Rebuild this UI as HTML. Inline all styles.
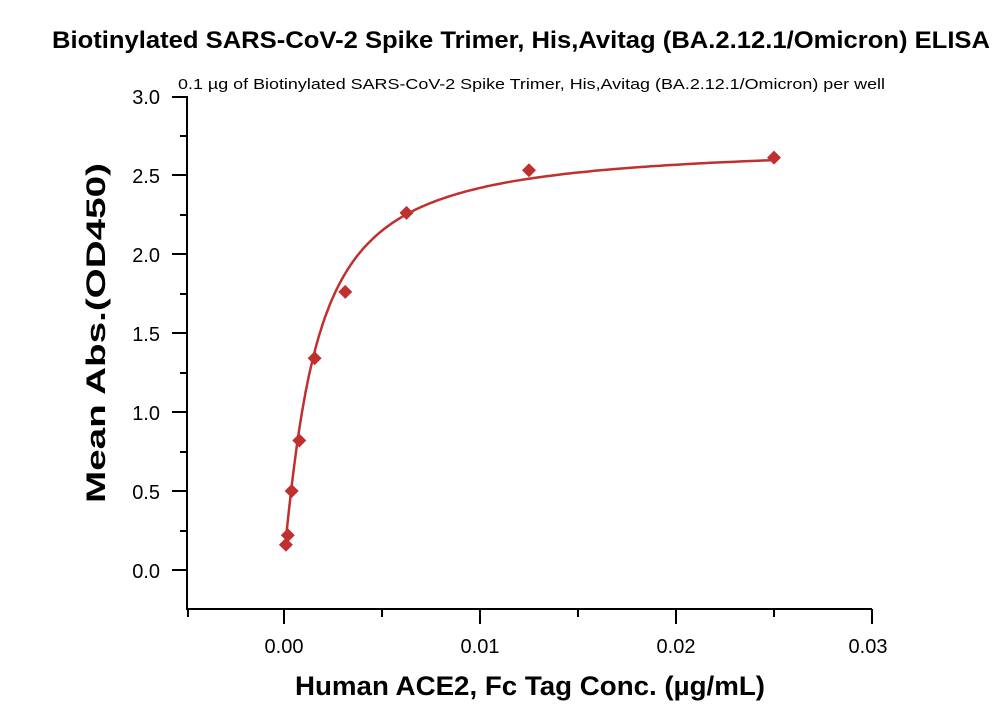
<!DOCTYPE html>
<html><head><meta charset="utf-8"><style>body{margin:0;background:#fff}svg{display:block}text{font-family:"Liberation Sans",sans-serif}</style></head>
<body>
<svg id="s" width="1000" height="714" xmlns="http://www.w3.org/2000/svg">
<text x="52" y="48" font-size="24" font-weight="bold" textLength="938" lengthAdjust="spacingAndGlyphs">Biotinylated SARS-CoV-2 Spike Trimer, His,Avitag (BA.2.12.1/Omicron) ELISA</text>
<text x="178" y="89" font-size="15" textLength="707" lengthAdjust="spacingAndGlyphs">0.1 µg of Biotinylated SARS-CoV-2 Spike Trimer, His,Avitag (BA.2.12.1/Omicron) per well</text>
<g stroke="#000" stroke-width="2" fill="none">
<path d="M187,96 V609 H872"/>
<path d="M172,97H187M180,136H187M172,175H187M180,215H187M172,254H187M180,294H187M172,333H187M180,373H187M172,412H187M180,452H187M172,491H187M180,531H187M172,570H187"/>
<path d="M188,609V617M284,609V624M382,609V617M480,609V624M578,609V617M676,609V624M774,609V617M872,609V624"/>
</g>
<g font-size="20" text-anchor="end">
<text x="160" y="104">3.0</text><text x="160" y="183">2.5</text><text x="160" y="262">2.0</text><text x="160" y="341">1.5</text><text x="160" y="420">1.0</text><text x="160" y="499">0.5</text><text x="160" y="578">0.0</text>
</g>
<g font-size="20" text-anchor="middle">
<text x="284" y="653">0.00</text><text x="480" y="653">0.01</text><text x="676" y="653">0.02</text><text x="868" y="653">0.03</text>
</g>
<text x="530" y="695" font-size="27" font-weight="bold" text-anchor="middle" textLength="470" lengthAdjust="spacingAndGlyphs">Human ACE2, Fc Tag Conc. (µg/mL)</text>
<text transform="translate(105,333) rotate(-90)" font-size="27" font-weight="bold" text-anchor="middle" textLength="340" lengthAdjust="spacingAndGlyphs">Mean Abs.(OD450)</text>
<path id="c" fill="none" stroke="#c0302f" stroke-width="2.5"/>
<g id="p" fill="#c0302f"></g>
</svg>
<script>
var X=function(x){return 284+x*19600},Y=function(v){return 570-v*158};
var f=function(x){var h=1.15,K=0.0016,mn=0.1,mx=2.7;return mn+(mx-mn)*Math.pow(x,h)/(Math.pow(K,h)+Math.pow(x,h));};
var d="";for(var i=0;i<=400;i++){var x=0.0001*Math.pow(250,i/400);d+=(i?"L":"M")+X(x).toFixed(1)+","+Y(f(x)).toFixed(1);}
document.getElementById("c").setAttribute("d",d);
var pts=[[0.025,2.61],[0.0125,2.53],[0.00625,2.26],[0.003125,1.76],[0.0015625,1.34],[0.00078,0.82],[0.00039,0.5],[0.000195,0.22],[0.0000977,0.16]];
var g=document.getElementById("p"),s="";
pts.forEach(function(p){var x=X(p[0]),y=Y(p[1]);s+='<path d="M'+x+','+(y-7)+'L'+(x+7)+','+y+'L'+x+','+(y+7)+'L'+(x-7)+','+y+'Z"/>';});
g.innerHTML=s;
</script>
</body></html>
